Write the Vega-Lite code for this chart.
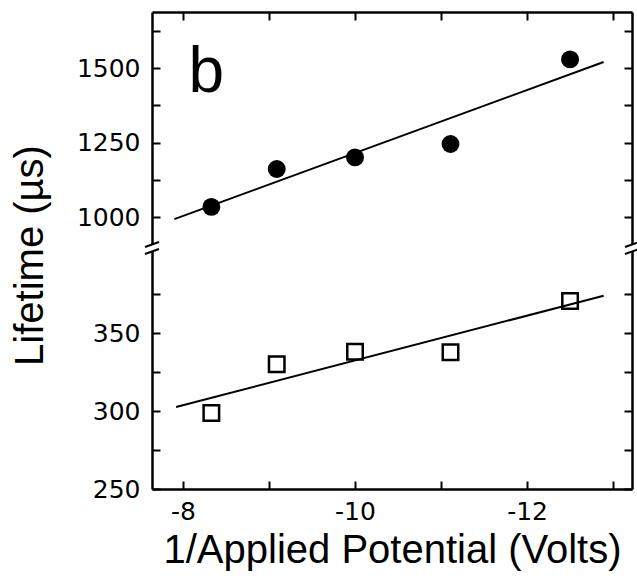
{
  "$schema": "https://vega.github.io/schema/vega-lite/v6.json",
  "background": "white",
  "padding": {"left": 10, "top": 11, "right": 5, "bottom": 5},
  "datasets": {
    "circles": [
      {"x": -8.33, "y": 1034},
      {"x": -9.09, "y": 1161},
      {"x": -10.0, "y": 1200},
      {"x": -11.11, "y": 1245},
      {"x": -12.5, "y": 1529}
    ],
    "circleFit": [
      {"x": -7.9, "y": 993},
      {"x": -12.89, "y": 1520}
    ],
    "squares": [
      {"x": -8.33, "y": 298.7},
      {"x": -9.09, "y": 330},
      {"x": -10.0, "y": 338},
      {"x": -11.11, "y": 337.6},
      {"x": -12.5, "y": 370.5}
    ],
    "squareFit": [
      {"x": -7.92, "y": 302.6},
      {"x": -12.89, "y": 373.9}
    ]
  },
  "config": {
    "view": {"stroke": null},
    "axis": {
      "grid": false,
      "domainColor": "black",
      "domainWidth": 2.5,
      "tickColor": "black",
      "tickWidth": 2,
      "tickSize": -8,
      "labelFont": "DejaVu Sans",
      "labelFontSize": 25,
      "labelColor": "black",
      "labelFlush": false,
      "labelOverlap": false,
      "titleFont": "Liberation Sans",
      "titleFontSize": 40,
      "titleFontWeight": "normal",
      "titleColor": "black"
    }
  },
  "spacing": 0,
  "bounds": "flush",
  "resolve": {"scale": {"x": "independent", "y": "independent"}},
  "vconcat": [
    {
      "width": 480,
      "height": 236,
      "resolve": {"axis": {"y": "independent"}},
      "layer": [
        {
          "data": {"name": "circles"},
          "mark": {"type": "point", "shape": "circle", "filled": true, "size": 320, "color": "black", "opacity": 1},
          "encoding": {
            "x": {"field": "x", "type": "quantitative",
              "scale": {"domain": [-13.22, -7.64], "reverse": true, "nice": false, "zero": false},
              "axis": {"orient": "top", "values": [-8, -9, -10, -11, -12, -13], "labels": false, "title": null}},
            "y": {"field": "y", "type": "quantitative",
              "scale": {"domain": [896, 1688], "nice": false, "zero": false},
              "axis": {"orient": "left", "values": [1000, 1125, 1250, 1375, 1500, 1625], "labelExpr": "datum.value % 250 == 0 ? '' + datum.value : ''", "labelPadding": 20, "title": null}}
          }
        },
        {
          "data": {"name": "circleFit"},
          "mark": {"type": "line", "color": "black", "strokeWidth": 2},
          "encoding": {
            "x": {"field": "x", "type": "quantitative"},
            "y": {"field": "y", "type": "quantitative",
              "axis": {"orient": "right", "values": [1000, 1125, 1250, 1375, 1500, 1625], "labels": false, "title": null}}
          }
        },
        {
          "data": {"values": [{}]},
          "mark": {"type": "text", "text": "b", "font": "Liberation Sans", "fontSize": 64, "color": "black", "align": "center", "baseline": "alphabetic"},
          "encoding": {
            "x": {"datum": -8.27, "type": "quantitative"},
            "y": {"datum": 1419, "type": "quantitative", "axis": null}
          }
        }
      ]
    },
    {
      "width": 480,
      "height": 241,
      "resolve": {"axis": {"y": "independent"}},
      "layer": [
        {
          "data": {"name": "squares"},
          "mark": {"type": "point", "shape": "square", "filled": false, "size": 240, "color": "black", "strokeWidth": 2.5, "opacity": 1},
          "encoding": {
            "x": {"field": "x", "type": "quantitative",
              "scale": {"domain": [-13.22, -7.64], "reverse": true, "nice": false, "zero": false},
              "axis": {"orient": "bottom", "values": [-8, -9, -10, -11, -12, -13], "labelExpr": "datum.value % 2 == 0 ? '' + datum.value : ''", "labelPadding": 18, "title": "1/Applied Potential (Volts)", "titlePadding": 6}},
            "y": {"field": "y", "type": "quantitative",
              "scale": {"domain": [250, 404.5], "nice": false, "zero": false},
              "axis": {"orient": "left", "values": [250, 275, 300, 325, 350, 375], "labelExpr": "datum.value % 50 == 0 ? '' + datum.value : ''", "labelPadding": 20,
                "title": "Lifetime (µs)", "titleX": -122, "titleY": 7, "titleAngle": -90, "titleAlign": "center", "titleBaseline": "middle"}}
          }
        },
        {
          "data": {"name": "squareFit"},
          "mark": {"type": "line", "color": "black", "strokeWidth": 2},
          "encoding": {
            "x": {"field": "x", "type": "quantitative"},
            "y": {"field": "y", "type": "quantitative",
              "axis": {"orient": "right", "values": [250, 275, 300, 325, 350, 375], "labels": false, "title": null}}
          }
        },
        {
          "data": {"values": [{}]},
          "mark": {"type": "point", "shape": "M -1 -0.15 L 1 -0.85 L 1 0.15 L -1 0.85 Z", "filled": true, "color": "white", "size": 196, "opacity": 1, "strokeWidth": 0},
          "encoding": {
            "x": {"datum": -7.64, "type": "quantitative"},
            "y": {"datum": 404.5, "type": "quantitative", "axis": null}
          }
        },
        {
          "data": {"values": [{}]},
          "mark": {"type": "point", "shape": "M -1 -0.15 L 1 -0.85 L 1 0.15 L -1 0.85 Z", "filled": true, "color": "white", "size": 196, "opacity": 1, "strokeWidth": 0},
          "encoding": {
            "x": {"datum": -13.22, "type": "quantitative"},
            "y": {"datum": 404.5, "type": "quantitative", "axis": null}
          }
        },
        {
          "data": {"values": [{}]},
          "mark": {"type": "point", "shape": "M -1 -0.15 L 1 -0.85 M -1 0.85 L 1 0.15", "filled": false, "color": "black", "size": 196, "opacity": 1, "strokeWidth": 2},
          "encoding": {
            "x": {"datum": -7.64, "type": "quantitative"},
            "y": {"datum": 404.5, "type": "quantitative", "axis": null}
          }
        },
        {
          "data": {"values": [{}]},
          "mark": {"type": "point", "shape": "M -1 -0.15 L 1 -0.85 M -1 0.85 L 1 0.15", "filled": false, "color": "black", "size": 196, "opacity": 1, "strokeWidth": 2},
          "encoding": {
            "x": {"datum": -13.22, "type": "quantitative"},
            "y": {"datum": 404.5, "type": "quantitative", "axis": null}
          }
        }
      ]
    }
  ]
}
